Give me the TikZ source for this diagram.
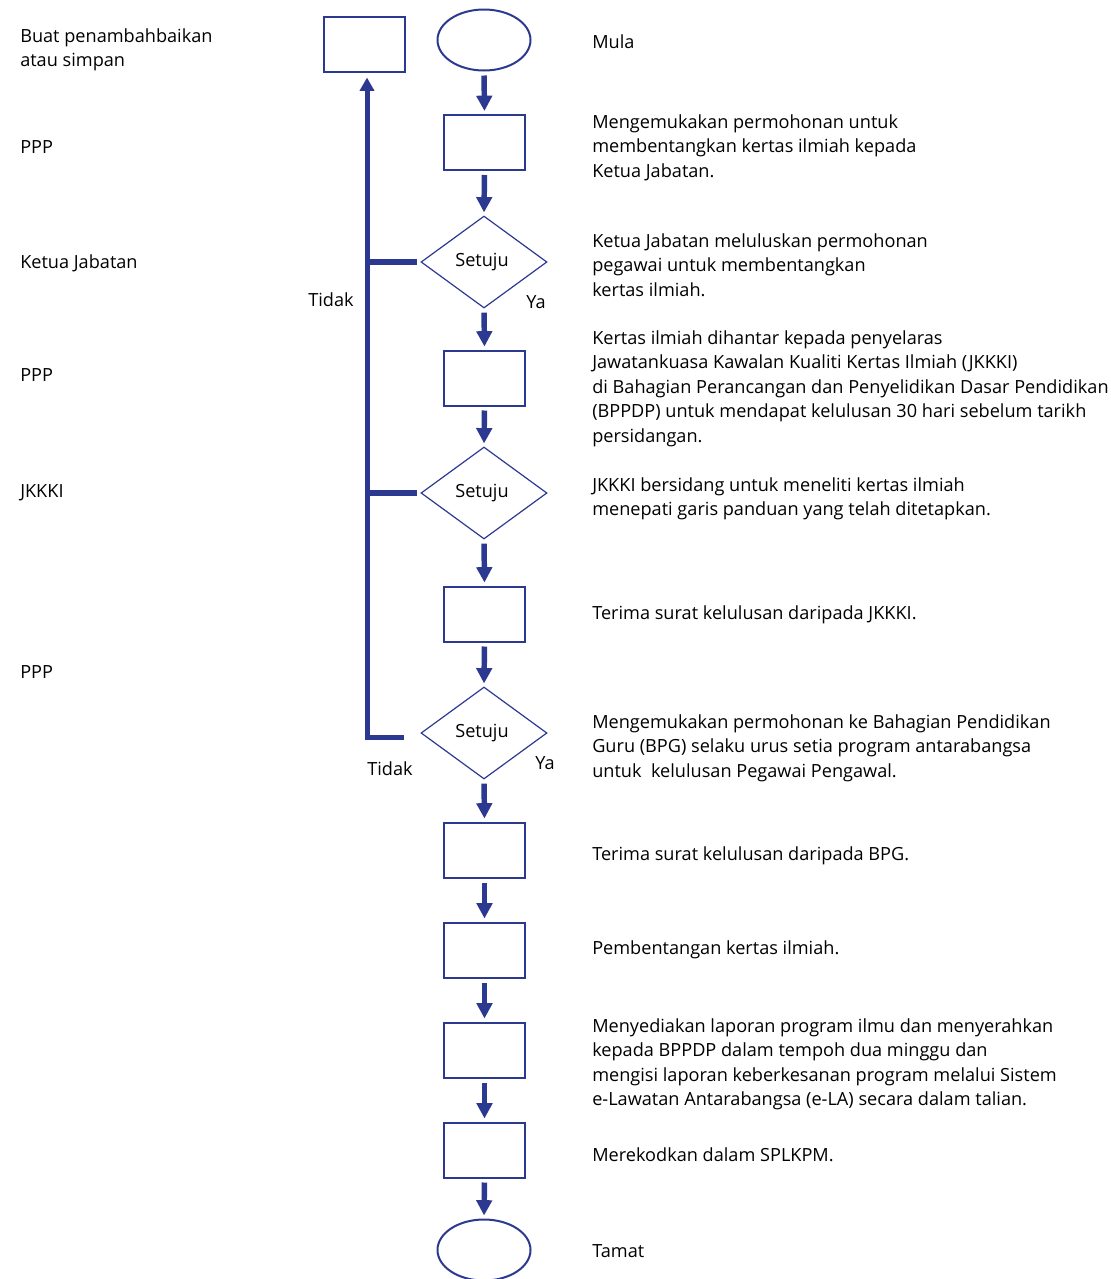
\documentclass[tikz,border=0pt]{standalone}
\usepackage{fontspec}
\setmainfont{Open Sans}
\usetikzlibrary{shapes.geometric,arrows.meta}
\definecolor{fc}{RGB}{43,57,144}
\tikzset{
  txt/.style={inner sep=0pt, font=\fontsize{13.6pt}{16pt}\selectfont, text=black},
  stepbox/.style={draw=fc, line width=1.5pt, minimum width=60.75pt, minimum height=41.25pt, inner sep=0pt},
  terminal/.style={ellipse, draw=fc, line width=1.5pt, minimum width=69.75pt, minimum height=45.75pt, inner sep=0pt},
  decision/.style={diamond, draw=fc, line width=0.9pt, minimum width=94.5pt, minimum height=69pt, inner sep=0pt, font=\fontsize{13.6pt}{16pt}\selectfont},
  flow/.style={draw=fc, line width=4.1pt, -{Triangle[length=11.5pt,width=11.5pt]}, shorten <=3pt, shorten >=2.25pt},
  backflow/.style={draw=fc, line width=3.75pt, line join=miter, -{Triangle[length=10pt,width=10.5pt]}, shorten >=3.75pt},
  stub/.style={draw=fc, line width=4.5pt, shorten >=2.25pt}
}
% one text line per node, baselines 24.6px apart
\newcommand\txtlines[4]{%
  \foreach \t [count=\i from 0] in {#4}
    \node[txt, anchor=base west] (#1-\i) at (#2, {#3+\i*24.6}) {\t};}
\begin{document}
\begin{tikzpicture}[x=0.75pt, y=-0.75pt]
\useasboundingbox (0,0) rectangle (1111,1279);

% main column
\node[terminal] (start) at (484,40) {};
\node[stepbox] (b1) at (484.5,142.5) {};
\node[decision] (d1) at (484,262) {\hspace*{-3pt}Setuju};
\node[stepbox] (b2) at (484.5,378) {};
\node[decision] (d2) at (484,493) {\hspace*{-3pt}Setuju};
\node[stepbox] (b3) at (484.5,614) {};
\node[decision] (d3) at (484,733) {\hspace*{-3pt}Setuju};
\node[stepbox] (b4) at (484.5,850) {};
\node[stepbox] (b5) at (484.5,950) {};
\node[stepbox] (b6) at (484.5,1050) {};
\node[stepbox] (b7) at (484.5,1150) {};
\node[terminal] (end) at (484,1250) {};

% rework box
\node[stepbox] (rb) at (364.5,44) {};

% forward arrows
\foreach \a/\b in {start/b1, b1/d1, d1/b2, b2/d2, d2/b3, b3/d3, d3/b4, b4/b5, b5/b6, b6/b7, b7/end}
  \draw[flow] (\a.south) -- (\b.north);

% return path for rejected requests
\coordinate (spine) at (367,737);
\coordinate (cbot) at (404,737);
\draw[backflow] (cbot) -- (spine) -- (spine |- rb.south);
\draw[stub] (d1.west -| spine) -- (d1.west);
\draw[stub] (d2.west -| spine) -- (d2.west);

% branch labels
\node[txt, anchor=base] (t1) at (331,306) {Tidak};
\node[txt, anchor=base] (y1) at (536,308) {Ya};
\node[txt, anchor=base] (t2) at (390,775) {Tidak};
\node[txt, anchor=base] (y2) at (545,769) {Ya};

% responsible parties
\txtlines{l0}{20}{42}{Buat penambahbaikan, atau simpan}
\txtlines{l1}{20}{153}{PPP}
\txtlines{l2}{20}{268}{Ketua Jabatan}
\txtlines{l3}{20}{381}{PPP}
\txtlines{l4}{20}{497}{JKKKI}
\txtlines{l5}{20}{678}{PPP}

% step descriptions
\txtlines{r0}{592}{48}{Mula}
\txtlines{r1}{592}{128}{Mengemukakan permohonan untuk, membentangkan kertas ilmiah kepada, Ketua Jabatan.}
\txtlines{r2}{592}{247}{Ketua Jabatan meluluskan permohonan, pegawai untuk membentangkan, kertas ilmiah.}
\txtlines{r3}{592}{344}{Kertas ilmiah dihantar kepada penyelaras, Jawatankuasa Kawalan Kualiti Kertas Ilmiah (JKKKI), di Bahagian Perancangan dan Penyelidikan Dasar Pendidikan, (BPPDP) untuk mendapat kelulusan 30 hari sebelum tarikh, persidangan.}
\txtlines{r4}{592}{491}{JKKKI bersidang untuk meneliti kertas ilmiah, menepati garis panduan yang telah ditetapkan.}
\txtlines{r5}{592}{619}{Terima surat kelulusan daripada JKKKI.}
\txtlines{r6}{592}{728}{Mengemukakan permohonan ke Bahagian Pendidikan, Guru (BPG) selaku urus setia program antarabangsa, untuk\ \ kelulusan Pegawai Pengawal.}
\txtlines{r7}{592}{860}{Terima surat kelulusan daripada BPG.}
\txtlines{r8}{592}{954}{Pembentangan kertas ilmiah.}
\txtlines{r9}{592}{1032}{Menyediakan laporan program ilmu dan menyerahkan, kepada BPPDP dalam tempoh dua minggu dan, mengisi laporan keberkesanan program melalui Sistem, e-Lawatan Antarabangsa (e-LA) secara dalam talian.}
\txtlines{r10}{592}{1161}{Merekodkan dalam SPLKPM.}
\txtlines{r11}{592}{1257}{Tamat}
\end{tikzpicture}
\end{document}
